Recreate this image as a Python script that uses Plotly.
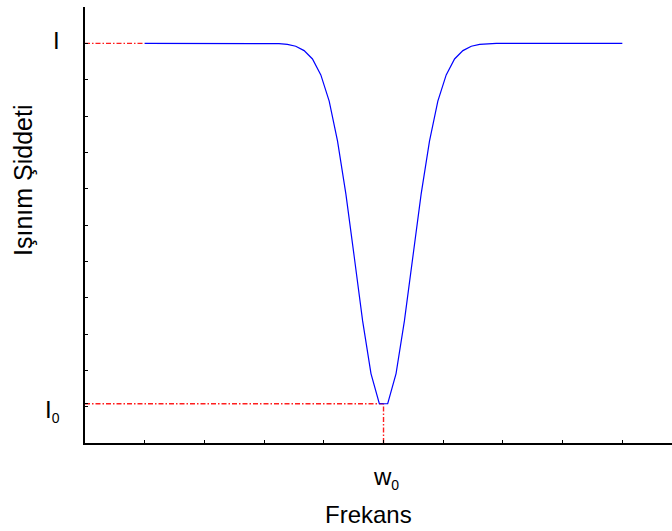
import plotly.graph_objects as go

# ---- data ----
freq = [1.00, 2.97, 3.11, 3.25, 3.39, 3.53, 3.67, 3.81, 3.95, 4.09, 4.23, 4.37,
        4.51, 4.65, 4.79, 4.93, 5.07, 5.21, 5.35, 5.49, 5.63, 5.77, 5.91, 6.05,
        6.19, 6.33, 6.47, 6.61, 6.75, 6.89, 7.03, 9.00]
intensity = [11.00, 11.00, 11.00, 10.99, 10.97, 10.92, 10.80, 10.57, 10.13, 9.41, 8.31, 6.85,
             5.12, 3.36, 1.91, 1.08, 1.08, 1.91, 3.36, 5.12, 6.85, 8.31, 9.41, 10.13,
             10.57, 10.80, 10.92, 10.97, 10.99, 11.00, 11.00, 11.00]

I_level = 11.0
I0_level = 1.08
w0 = 5.0

x_range = [0, 9.832]
y_range = [0, 12]
ytick_vals = [I0_level, I_level]
ytick_text = ["I<sub><span style='font-size:14px'>0</span></sub>", "I"]
xtick_vals = [w0]
xtick_text = ["w<sub><span style='font-size:14px'>0</span></sub>"]
x_title = "Frekans"
y_title = "Işınım Şiddeti"

FONT = "Liberation Sans, Arial, Helvetica, sans-serif"
TXT = dict(family=FONT, size=24, color="black")

fig = go.Figure()

red = dict(color="rgb(255,30,30)", width=1.4, dash="5px,2px,1.5px,2px")
# guide lines
fig.add_trace(go.Scatter(x=[x_range[0], 1.0], y=[I_level, I_level], mode="lines",
                         line=red, hoverinfo="skip", showlegend=False))
fig.add_trace(go.Scatter(x=[x_range[0], w0], y=[I0_level, I0_level], mode="lines",
                         line=red, hoverinfo="skip", showlegend=False))
fig.add_trace(go.Scatter(x=[w0, w0], y=[y_range[0], I0_level], mode="lines",
                         line=red, hoverinfo="skip", showlegend=False))
# curve
fig.add_trace(go.Scatter(x=freq, y=intensity, mode="lines",
                         line=dict(color="rgb(0,0,255)", width=1.2), showlegend=False))

axis_common = dict(showgrid=False, zeroline=False, showline=True, linecolor="black",
                   linewidth=2, ticks="inside", ticklen=3, tickwidth=1, tickcolor="black",
                   showticklabels=False)

fig.update_xaxes(range=x_range, tickvals=xtick_vals,
                 minor=dict(ticks="inside", ticklen=3, dtick=1, tick0=0, tickcolor="black", tickwidth=1),
                 **axis_common)
fig.update_yaxes(range=y_range, tickvals=ytick_vals,
                 minor=dict(ticks="inside", ticklen=3, dtick=1, tick0=0, tickcolor="black", tickwidth=1),
                 **axis_common)

# tick labels
for v, t, ys in zip(ytick_vals, ytick_text, [-7, 3]):
    fig.add_annotation(x=0, y=v, xref="paper", yref="y", text=t, showarrow=False,
                       xanchor="right", yanchor="middle", xshift=-23, yshift=ys, font=TXT)
for v, t in zip(xtick_vals, xtick_text):
    fig.add_annotation(x=v, y=(443 - 478) / 436, xref="x", yref="paper", text=t, showarrow=False,
                       xanchor="center", yanchor="middle", xshift=2, font=TXT)
# axis titles
fig.add_annotation(x=(368.5 - 85) / 587, y=(443 - 514) / 436, xref="paper", yref="paper",
                   text=x_title, showarrow=False, xanchor="center", yanchor="middle", font=TXT)
fig.add_annotation(x=(23 - 85) / 587, y=(443 - 181) / 436, xref="paper", yref="paper",
                   text=y_title, showarrow=False, textangle=-90, xanchor="center", yanchor="middle",
                   font=dict(family=FONT, size=25, color="black"))

fig.update_layout(width=672, height=531, margin=dict(l=85, r=0, t=7, b=88),
                  paper_bgcolor="white", plot_bgcolor="white",
                  font=dict(family=FONT, color="black"))

fig.write_html("out.html")
